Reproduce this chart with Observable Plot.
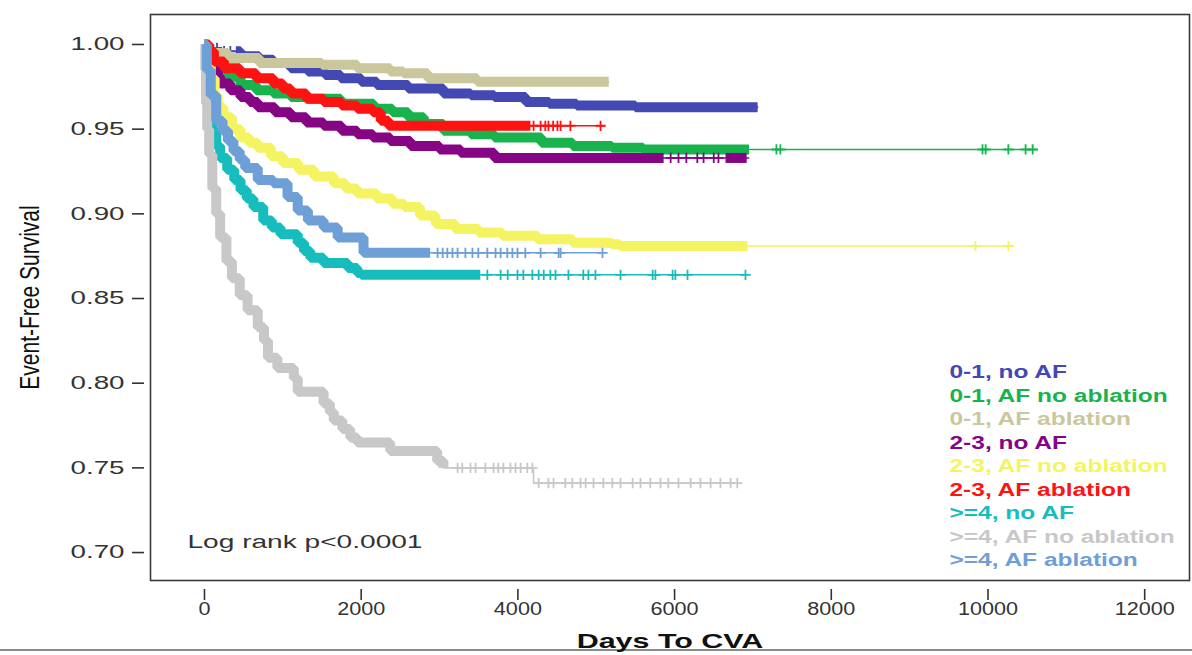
<!DOCTYPE html>
<html><head><meta charset="utf-8">
<script src="https://cdn.jsdelivr.net/npm/d3@7"></script>
<script src="https://cdn.jsdelivr.net/npm/@observablehq/plot@0.6"></script>
<style>
body{margin:0;background:#fff;}
#wrap{position:relative;width:1192px;height:655px;overflow:hidden;background:#fff;}
#edge{position:absolute;left:0;top:649px;width:1192px;height:2px;background:#8a8a8a;}
</style></head><body><div id="wrap"><div id="edge"></div></div>
<script>
// ---- data ----
const groupLabels = ["0-1, no AF","0-1, AF no ablation","0-1, AF ablation","2-3, no AF","2-3, AF no ablation","2-3, AF ablation",">=4, no AF",">=4, AF no ablation",">=4, AF ablation"];
const groupColors = ["#4348B3","#19B34E","#CBC79C","#850585","#F4F462","#FF1212","#17BDBD","#C8C8C8","#6E9FD6"];
const xTicks = [0,2000,4000,6000,8000,10000,12000];
const yTicks = [0.70,0.75,0.80,0.85,0.90,0.95,1.00];

// Kaplan-Meier step knots [day, survival]
const surv_01_noAF = [[0,1],[60,0.998],[200,0.996],[460,0.993],[700,0.991],[880,0.989],[1100,0.986],[1320,0.984],[1540,0.982],[1740,0.980],[2000,0.978],[2200,0.976],[2600,0.974],[3050,0.971],[3400,0.970],[3700,0.969],[4100,0.966],[4400,0.965],[4750,0.964],[5500,0.963]];
const surv_01_AFnoAbl = [[0,1],[30,0.995],[60,0.992],[120,0.988],[170,0.985],[240,0.981],[460,0.976],[660,0.973],[880,0.971],[1100,0.969],[1320,0.968],[1740,0.965],[2160,0.962],[2400,0.960],[2600,0.957],[2800,0.953],[3050,0.949],[3400,0.947],[3700,0.945],[4300,0.942],[4700,0.940],[5200,0.939],[5600,0.938]];
const surv_01_AFabl = [[0,1],[40,0.997],[100,0.995],[300,0.992],[700,0.989],[1500,0.988],[1950,0.986],[2370,0.984],[2540,0.983],[2850,0.980],[3480,0.978]];
const surv_23_noAF = [[0,1],[30,0.995],[80,0.990],[115,0.985],[170,0.981],[200,0.977],[330,0.973],[460,0.969],[580,0.966],[680,0.963],[900,0.960],[1100,0.957],[1300,0.954],[1520,0.952],[1750,0.949],[1950,0.947],[2150,0.945],[2370,0.943],[2630,0.940],[3000,0.938],[3270,0.936],[3700,0.933]];
const surv_23_AFnoAbl = [[0,1],[30,0.990],[80,0.980],[130,0.970],[170,0.963],[240,0.957],[350,0.950],[460,0.945],[570,0.942],[680,0.939],[850,0.934],[1000,0.930],[1200,0.926],[1400,0.922],[1650,0.918],[1800,0.915],[1950,0.912],[2200,0.909],[2400,0.906],[2550,0.904],[2750,0.899],[2950,0.894],[3200,0.891],[3500,0.889],[3800,0.887],[4250,0.885],[4700,0.883],[5200,0.882],[5300,0.881]];
const surv_23_AFabl = [[0,1],[60,0.996],[120,0.990],[250,0.986],[450,0.983],[660,0.980],[880,0.977],[1000,0.974],[1100,0.971],[1300,0.968],[1520,0.966],[1750,0.964],[1950,0.962],[2150,0.960],[2250,0.955],[2350,0.952]];
const surv_4_noAF = [[0,1],[20,0.980],[50,0.960],[100,0.949],[150,0.940],[200,0.933],[290,0.926],[380,0.920],[460,0.914],[540,0.909],[625,0.904],[750,0.896],[860,0.892],[970,0.888],[1190,0.883],[1270,0.878],[1350,0.874],[1520,0.871],[1830,0.868],[1950,0.865],[2000,0.864]];
const surv_4_AFnoAbl = [[0,1],[10,0.985],[20,0.965],[35,0.950],[60,0.935],[100,0.915],[150,0.900],[200,0.886],[280,0.872],[350,0.862],[450,0.852],[550,0.843],[680,0.833],[760,0.825],[810,0.815],[930,0.809],[1140,0.803],[1190,0.795],[1520,0.788],[1600,0.783],[1650,0.778],[1760,0.773],[1860,0.768],[1950,0.765],[2370,0.760],[2970,0.754],[3050,0.750],[4200,0.741]];
const surv_4_AFabl = [[0,1],[30,0.985],[80,0.970],[150,0.955],[230,0.949],[300,0.943],[370,0.937],[450,0.932],[520,0.927],[680,0.920],[880,0.918],[1060,0.910],[1190,0.902],[1320,0.896],[1520,0.892],[1700,0.886],[2030,0.877]];

// last follow-up day of each group
const lastDay = [7060,10630,5160,6945,10330,5100,6905,6810,5092];
// spans with dense censoring (drawn as a solid band)
const denseSpans = [[[400,7060]],[[0,6950]],[[0,5160]],[[0,5860],[6650,6920]],[[0,6930]],[[0,4160]],[[0,3520]],[[0,3050]],[[0,2880]]];
// isolated censoring times
const censor_01_noAF = [70,160,250,330];
const censor_01_AFnoAbl = [7300,7350,9930,9970,10260,10480,10570];
const censor_01_AFabl = [];
const censor_23_noAF = [5950,6050,6150,6290,6370,6500,6560];
const censor_23_AFnoAbl = [9840,10260];
const censor_23_AFabl = [4200,4290,4350,4390,4450,4505,4545,4670,5055];
const censor_4_noAF = [3610,3780,3870,3995,4070,4185,4265,4330,4415,4480,4645,4835,4900,4990,5310,5720,5755,5975,6010,6165,6905];
const censor_4_AFnoAbl = [3230,3290,3395,3460,3585,3690,3750,3815,3905,3970,4035,4120,4185,4265,4390,4455,4605,4695,4800,4865,4965,5090,5205,5310,5465,5565,5690,5820,5920,6050,6205,6330,6460,6585,6715,6800];
const censor_4_AFabl = [2975,3040,3100,3165,3230,3330,3420,3495,3610,3715,3780,3865,3930,3995,4095,4290,4520,4545,5080];

const survKnots = [surv_01_noAF,surv_01_AFnoAbl,surv_01_AFabl,surv_23_noAF,surv_23_AFnoAbl,surv_23_AFabl,surv_4_noAF,surv_4_AFnoAbl,surv_4_AFabl];
const censorDays = [censor_01_noAF,censor_01_AFnoAbl,censor_01_AFabl,censor_23_noAF,censor_23_AFnoAbl,censor_23_AFabl,censor_4_noAF,censor_4_AFnoAbl,censor_4_AFabl];

// ---- helpers ----
function valueAt(k, t){ let v = k[0][1]; for (const [d,s] of k) if (d <= t) v = s; return v; }
function segment(k, a, b){
  const pts = [{day:a, surv:valueAt(k,a)}];
  for (const [d,s] of k) if (d > a && d < b) pts.push({day:d, surv:s});
  pts.push({day:b, surv:valueAt(k,b)});
  return pts;
}

const W = 1192, H = 655;
const mL = 150, mT = 14, mR = 3, mB = 75;
const font = "'Liberation Sans', Arial, sans-serif";

const marks = [Plot.frame({stroke:"#3a3a3a", strokeWidth:1.6})];
survKnots.forEach((k, i) => {
  const c = groupColors[i];
  marks.push(Plot.line(segment(k, 0, lastDay[i]), {x:"day", y:"surv", curve:"step-after", stroke:c, strokeWidth:1.6}));
  for (const [a,b] of denseSpans[i]) {
    marks.push(Plot.line(segment(k, a, b), {x:"day", y:"surv", curve:"step-after", stroke:c, strokeWidth:10, strokeLinecap:"butt", strokeLinejoin:"miter"}));
  }
  const cd = censorDays[i].map(d => ({day:d, surv:valueAt(k,d)}));
  marks.push(Plot.dot(cd, {x:"day", y:"surv", symbol:"plus", r:3.4, stroke:c, strokeWidth:1.8}));
});

marks.push(Plot.axisY({ticks:yTicks, tickFormat:d3.format(".2f"), tickSize:12, tickPadding:8, dx:-6, fontSize:18.5, stroke:"#333", fill:"#333", strokeWidth:1.6, label:null}));
marks.push(Plot.axisX({ticks:xTicks, tickFormat:d3.format("d"), tickSize:11, tickPadding:2, dy:9, fontSize:18, stroke:"#333", fill:"#333", strokeWidth:1.6, label:null}));
marks.push(Plot.text(["Log rank p<0.0001"], {frameAnchor:"bottom-left", dx:37, dy:-38, textAnchor:"start", lineAnchor:"middle", fontSize:18, fill:"#333", className:"stretch-log"}));
marks.push(Plot.text(["Days To CVA"], {frameAnchor:"bottom", dy:61, lineAnchor:"middle", fontSize:21, fontWeight:"bold", fill:"#111", className:"stretch-title"}));
marks.push(Plot.text(["Event-Free Survival"], {frameAnchor:"left", dx:-120, rotate:-90, textAnchor:"middle", lineAnchor:"middle", fontSize:21, fill:"#111", className:"ytitle"}));
groupLabels.forEach((lab, i) => {
  marks.push(Plot.text([lab], {frameAnchor:"top-left", dx:799, dy:372 + i*23.5 - mT, textAnchor:"start", lineAnchor:"middle", fontSize:17.5, fontWeight:"bold", fill:groupColors[i], className:"stretch-legend"}));
});

const chart = Plot.plot({
  width: W, height: H,
  marginLeft: mL, marginTop: mT, marginRight: mR, marginBottom: mB,
  style: {fontFamily: font, background: "transparent", overflow: "visible"},
  x: {domain: [-689, 12572]},
  y: {domain: [0.6835, 1.0177]},
  marks
});
chart.style.position = "absolute"; chart.style.left = "0"; chart.style.top = "0";
document.getElementById("wrap").appendChild(chart);

// horizontal stretch of text to match the reference's wide lettering
function stretch(sel, k){
  chart.querySelectorAll(sel).forEach(t => {
    const w = t.getComputedTextLength();
    if (w > 0) { t.setAttribute("textLength", (w*k).toFixed(1)); t.setAttribute("lengthAdjust","spacingAndGlyphs"); }
  });
}
stretch('g[aria-label="y-axis tick label"] text', 1.5);
stretch('g[aria-label="x-axis tick label"] text', 1.2);
stretch('.stretch-log text', 1.56);
stretch('.stretch-title text', 1.45);
stretch('.stretch-legend text', 1.4);
// rotated title: widen glyphs across the baseline (appears horizontal on screen)
chart.querySelectorAll('.ytitle text').forEach(t => {
  const tr = t.getAttribute("transform") || "";
  t.setAttribute("transform", tr + " scale(1,1.3)");
});
</script></body></html>
